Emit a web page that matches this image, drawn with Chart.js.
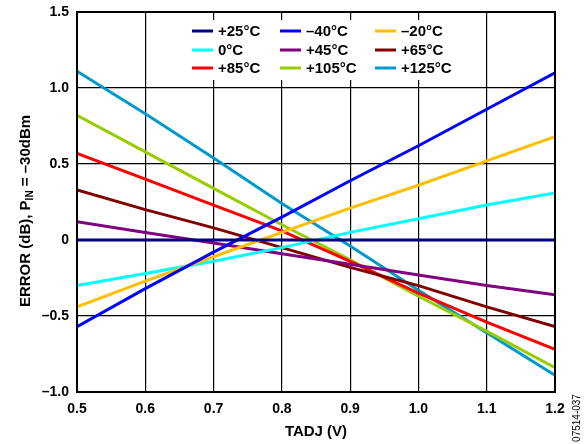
<!DOCTYPE html>
<html>
<head>
<meta charset="utf-8">
<script src="https://cdn.jsdelivr.net/npm/chart.js@4"></script>
<style>
  html, body { margin: 0; padding: 0; background: #fff; }
  canvas { display: block; }
</style>
</head>
<body>
<canvas id="chart" width="584" height="444"></canvas>
<script>
// TADJ voltage (V)
const tadj = [0.5, 0.6, 0.7, 0.8, 0.9, 1.0, 1.1, 1.2];

// error (dB) per temperature
const errP25  = [0, 0, 0, 0, 0, 0, 0, 0];
const errM40  = [-0.57, -0.32, -0.08, 0.15, 0.39, 0.62, 0.86, 1.10];
const errM20  = [-0.44, -0.27, -0.11, 0.05, 0.21, 0.36, 0.52, 0.68];
const err0    = [-0.30, -0.22, -0.14, -0.05, 0.05, 0.14, 0.23, 0.31];
const errP45  = [0.12, 0.05, -0.02, -0.09, -0.16, -0.23, -0.30, -0.36];
const errP65  = [0.33, 0.20, 0.08, -0.05, -0.18, -0.30, -0.44, -0.57];
const errP85  = [0.57, 0.40, 0.23, 0.06, -0.14, -0.35, -0.54, -0.72];
const errP105 = [0.82, 0.58, 0.34, 0.10, -0.13, -0.37, -0.60, -0.84];
const errP125 = [1.11, 0.83, 0.54, 0.24, -0.04, -0.33, -0.61, -0.89];

const labels = ['+25°C', '–40°C', '–20°C', '0°C', '+45°C', '+65°C', '+85°C', '+105°C', '+125°C'];
const series = [errP25, errM40, errM20, err0, errP45, errP65, errP85, errP105, errP125];
const colors = ['#000080', '#0000ff', '#ffbf00', '#00ffff', '#800080', '#800000', '#ff0000', '#99cc00', '#0099cc'];

const yTicks = [-1.0, -0.5, 0, 0.5, 1.0, 1.5];

const FONT = '"Liberation Sans", Arial, sans-serif';

const datasets = series.map((vals, i) => ({
    label: labels[i],
    data: vals.map((v, j) => ({x: tadj[j], y: v})),
    borderColor: colors[i],
    backgroundColor: colors[i],
    borderWidth: 3,
    pointRadius: 0,
    tension: 0,
    fill: false
}));

// frame, legend box and axis titles
const decorPlugin = {
    id: 'decor',
    afterDraw(chart) {
        const ctx = chart.ctx;
        const a = chart.chartArea;
        ctx.save();

        // frame
        ctx.strokeStyle = '#000';
        ctx.lineWidth = 2;
        ctx.strokeRect(a.left, a.top, a.right - a.left, a.bottom - a.top);

        // legend, 3 columns
        ctx.fillStyle = '#fff';
        ctx.fillRect(187, 20, 272, 60);
        const colX = [192, 280, 375];
        const rowY = [31, 50, 68];
        ctx.font = 'bold 15px ' + FONT;
        ctx.textBaseline = 'middle';
        ctx.textAlign = 'left';
        labels.forEach((lab, i) => {
            const x = colX[i % 3];
            const y = rowY[Math.floor(i / 3)];
            ctx.strokeStyle = colors[i];
            ctx.lineWidth = 3;
            ctx.beginPath();
            ctx.moveTo(x, y);
            ctx.lineTo(x + 21, y);
            ctx.stroke();
            ctx.fillStyle = '#000';
            ctx.fillText(lab, x + 26, y + 1);
        });

        // x title
        ctx.fillStyle = '#000';
        ctx.textAlign = 'center';
        ctx.font = 'bold 15px ' + FONT;
        ctx.fillText('TADJ (V)', (a.left + a.right) / 2, 432);

        // y title with subscript
        ctx.translate(26, 211);
        ctx.rotate(-Math.PI / 2);
        ctx.textAlign = 'left';
        const big = 'bold 15px ' + FONT;
        const small = 'bold 10px ' + FONT;
        const p1 = 'ERROR (dB), P', sub = 'IN', p2 = ' = –30dBm';
        ctx.font = big;
        const w1 = ctx.measureText(p1).width, w3 = ctx.measureText(p2).width;
        ctx.font = small;
        const w2 = ctx.measureText(sub).width;
        let x0 = -(w1 + w2 + w3) / 2;
        ctx.font = big;
        ctx.fillText(p1, x0, 0);
        ctx.font = small;
        ctx.fillText(sub, x0 + w1, 4);
        ctx.font = big;
        ctx.fillText(p2, x0 + w1 + w2, 0);
        ctx.restore();

        // figure id
        ctx.save();
        ctx.translate(577, 418);
        ctx.rotate(-Math.PI / 2);
        ctx.fillStyle = '#000';
        ctx.font = '10px ' + FONT;
        ctx.textAlign = 'center';
        ctx.textBaseline = 'middle';
        ctx.fillText('07514-037', 0, 0);
        ctx.restore();
    }
};

new Chart(document.getElementById('chart'), {
    type: 'line',
    data: {datasets},
    plugins: [decorPlugin],
    options: {
        responsive: false,
        animation: false,
        devicePixelRatio: 1,
        layout: {padding: {top: 12, right: 29, left: 0, bottom: 0}},
        plugins: {legend: {display: false}, tooltip: {enabled: false}},
        scales: {
            x: {
                type: 'linear',
                min: 0.5,
                max: 1.2,
                afterFit: s => {
                    s.height = 52;
                    s.paddingLeft = 0;
                    s.paddingRight = 0;
                },
                afterBuildTicks: s => { s.ticks = tadj.map(v => ({value: v})); },
                ticks: {
                    color: '#000',
                    padding: 9,
                    font: {family: FONT, size: 14, weight: 'bold'},
                    callback: v => Number(v).toFixed(1)
                },
                grid: {color: '#000', lineWidth: 1.2, drawTicks: false},
                border: {color: '#000', width: 2}
            },
            y: {
                min: -1.0,
                max: 1.5,
                afterFit: s => {
                    s.width = 77;
                    s.paddingTop = 0;
                    s.paddingBottom = 0;
                },
                afterBuildTicks: s => { s.ticks = yTicks.map(v => ({value: v})); },
                ticks: {
                    color: '#000',
                    padding: 8,
                    font: {family: FONT, size: 14, weight: 'bold'},
                    callback: v => v === 0 ? '0' : Number(v).toFixed(1).replace('-', '–')
                },
                grid: {color: '#000', lineWidth: 1.2, drawTicks: false},
                border: {color: '#000', width: 2}
            }
        }
    }
});
</script>
</body>
</html>
